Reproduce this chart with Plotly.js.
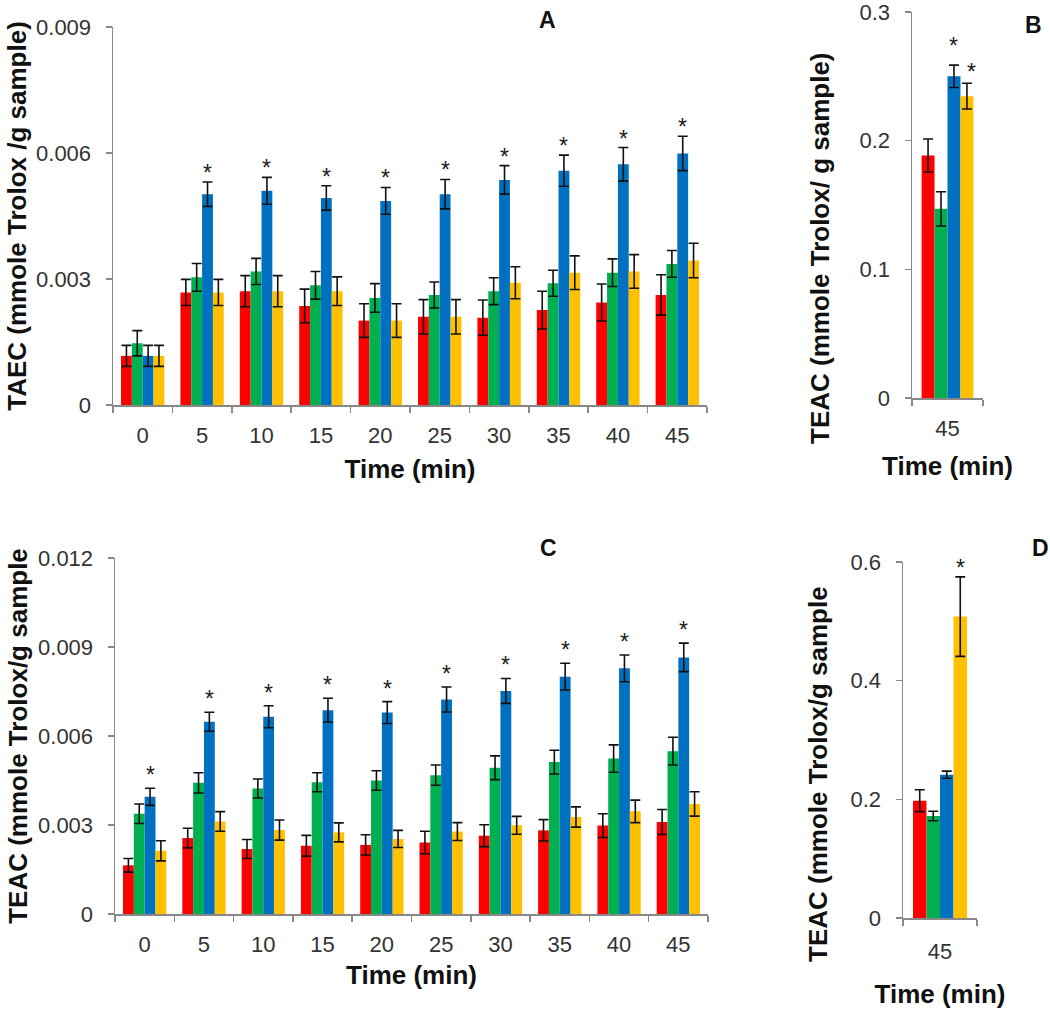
<!DOCTYPE html>
<html>
<head>
<meta charset="utf-8">
<script src="https://cdn.plot.ly/plotly-3.0.1.min.js"></script>
<style>html,body{margin:0;padding:0;background:#fff}#chart{width:1050px;height:1009px}</style>
</head>
<body>
<div id="chart"></div>
<script>
// ---------- data ----------
const timeLabels = ["0","5","10","15","20","25","30","35","40","45"];
const singleLabel = ["45"];
const seriesNames = ["Series 1","Series 2","Series 3","Series 4"];
const seriesColors = ["#FF0000","#00B050","#0070C0","#FFC000"];

// Panel A: TAEC
const aRed = [0.00117,0.00268,0.00271,0.00236,0.00201,0.00210,0.00208,0.00226,0.00244,0.00262];
const aRedErr = [0.00025,0.00031,0.00037,0.00040,0.00040,0.00041,0.00042,0.00045,0.00044,0.00048];
const aGreen = [0.00147,0.00304,0.00318,0.00285,0.00255,0.00262,0.00271,0.00290,0.00315,0.00336];
const aGreenErr = [0.00030,0.00033,0.00031,0.00033,0.00034,0.00031,0.00032,0.00031,0.00033,0.00032];
const aBlue = [0.00117,0.00502,0.00510,0.00493,0.00486,0.00502,0.00536,0.00558,0.00573,0.00599];
const aBlueErr = [0.00025,0.00029,0.00032,0.00029,0.00032,0.00035,0.00034,0.00037,0.00040,0.00041];
const aYellow = [0.00117,0.00268,0.00271,0.00271,0.00201,0.00210,0.00291,0.00315,0.00318,0.00344];
const aYellowErr = [0.00025,0.00031,0.00037,0.00034,0.00040,0.00041,0.00038,0.00040,0.00040,0.00041];
const aStarBlue = [false,true,true,true,true,true,true,true,true,true];
const aYTicks = [0,0.003,0.006,0.009];
const aYTickText = ["0","0.003","0.006","0.009"];

// Panel B: TEAC at 45 min
const bValues = [0.1885,0.147,0.250,0.2346];
const bErr = [0.0128,0.0133,0.0087,0.0100];
const bStars = [false,false,true,true];
const bYTicks = [0,0.1,0.2,0.3];
const bYTickText = ["0","0.1","0.2","0.3"];

// Panel C: TEAC
const cRed = [0.00164,0.00256,0.00219,0.00230,0.00233,0.00241,0.00264,0.00282,0.00298,0.00310];
const cRedErr = [0.00023,0.00033,0.00032,0.00035,0.00034,0.00038,0.00037,0.00036,0.00040,0.00042];
const cGreen = [0.00338,0.00442,0.00423,0.00444,0.00450,0.00468,0.00493,0.00512,0.00524,0.00549];
const cGreenErr = [0.00033,0.00034,0.00032,0.00032,0.00033,0.00034,0.00040,0.00040,0.00046,0.00047];
const cBlue = [0.00395,0.00648,0.00665,0.00687,0.00679,0.00723,0.00752,0.00800,0.00828,0.00865];
const cBlueErr = [0.00029,0.00032,0.00037,0.00040,0.00037,0.00042,0.00042,0.00045,0.00045,0.00048];
const cYellow = [0.00213,0.00312,0.00283,0.00275,0.00253,0.00278,0.00299,0.00327,0.00346,0.00371];
const cYellowErr = [0.00034,0.00033,0.00034,0.00032,0.00029,0.00030,0.00030,0.00034,0.00038,0.00041];
const cStarBlue = [true,true,true,true,true,true,true,true,true,true];
const cYTicks = [0,0.003,0.006,0.009,0.012];
const cYTickText = ["0","0.003","0.006","0.009","0.012"];

// Panel D: TEAC at 45 min
const dValues = [0.1977,0.172,0.2415,0.508];
const dErr = [0.0185,0.008,0.006,0.067];
const dStars = [false,false,false,true];
const dYTicks = [0,0.2,0.4,0.6];
const dYTickText = ["0","0.2","0.4","0.6"];

// ---------- styling ----------
const W = 1050, H = 1009;
const FONT = "Liberation Sans, Arial, Helvetica, sans-serif";
const BARGAP = 0.27;
const tickFont = {family: FONT, size: 22, color: "#333"};
const titleFont = {family: FONT, size: 26, color: "#111", weight: 700};

function px2x(p){return p/W;}
function px2y(p){return 1 - p/H;}

const panels = {
  A: {xd:[113,707], yd:[405,27]},
  B: {xd:[912,983], yd:[398,12]},
  C: {xd:[115,708], yd:[914,558]},
  D: {xd:[903,977], yd:[918,562]}
};

function errObj(arr){
  return {type:"data", array:arr, visible:true, color:"#111", thickness:1.6, width:5};
}

const traces = [];
function addGroup(xs, vals, errs, xa, ya){
  for(let s=0;s<4;s++){
    traces.push({
      type:"bar", x:xs, y:vals[s], name:seriesNames[s], showlegend:false,
      marker:{color:seriesColors[s], line:{width:0}},
      error_y:errObj(errs[s]), xaxis:xa, yaxis:ya, hoverinfo:"x+y"
    });
  }
}
addGroup(timeLabels,[aRed,aGreen,aBlue,aYellow],[aRedErr,aGreenErr,aBlueErr,aYellowErr],"x","y");
addGroup(singleLabel,bValues.map(v=>[v]),bErr.map(v=>[v]),"x2","y2");
addGroup(timeLabels,[cRed,cGreen,cBlue,cYellow],[cRedErr,cGreenErr,cBlueErr,cYellowErr],"x3","y3");
addGroup(singleLabel,dValues.map(v=>[v]),dErr.map(v=>[v]),"x4","y4");

const annotations = [];
function barShift(panel, nCats, seriesIdx){
  const p = panels[panel];
  const catW = (p.xd[1]-p.xd[0]) / nCats;
  const bw = catW*(1-BARGAP)/4;
  return (seriesIdx-1.5)*bw;
}
// x given as category serial number (index)
function star(xref, yref, idx, y, shiftX, shiftY){
  annotations.push({xref:xref, yref:yref, x:idx, y:y, text:"*", showarrow:false,
    xanchor:"center", yanchor:"bottom", xshift:shiftX, yshift:shiftY,
    font:{family:FONT, size:23, color:"#222"}});
}
timeLabels.forEach((t,i)=>{ if(aStarBlue[i]) star("x","y",i,aBlue[i]+aBlueErr[i],barShift("A",10,2),-6); });
timeLabels.forEach((t,i)=>{ if(cStarBlue[i]) star("x3","y3",i,cBlue[i]+cBlueErr[i],barShift("C",10,2),-2); });
[0,1,2,3].forEach(s=>{ if(bStars[s]) star("x2","y2",0,bValues[s]+bErr[s],barShift("B",1,s)+(s===3?5:0),s===2?4:-4); });
[0,1,2,3].forEach(s=>{ if(dStars[s]) star("x4","y4",0,dValues[s]+dErr[s],barShift("D",1,s),-6); });

// panel letters
[["A",547,20],["B",1033,25],["C",548,548],["D",1040,548]].forEach(l=>{
  annotations.push({xref:"paper",yref:"paper",x:px2x(l[1]),y:px2y(l[2]),text:"<b>"+l[0]+"</b>",
    showarrow:false,xanchor:"center",yanchor:"middle",font:{family:FONT,size:23,color:"#111"}});
});
// y titles for the narrow panels (positioned as in the original)
annotations.push({xref:"paper",yref:"paper",x:px2x(820),y:px2y(248),text:"<b>TEAC (mmole Trolox/ g sample)</b>",
  textangle:-90,showarrow:false,xanchor:"center",yanchor:"middle",font:titleFont});
annotations.push({xref:"paper",yref:"paper",x:px2x(818),y:px2y(774),text:"<b>TEAC (mmole Trolox/g sample</b>",
  textangle:-90,showarrow:false,xanchor:"center",yanchor:"middle",font:titleFont});

function xAxis(panel, nCats, titleText, anchor, standoff, labelStandoff){
  const p = panels[panel];
  return {domain:[px2x(p.xd[0]),px2x(p.xd[1])], anchor:anchor, type:"category",
    range:[-0.5, nCats-0.5], autorange:false, tickangle:0,
    showline:true, linecolor:"#888", linewidth:1.5, ticks:"outside", tickson:"boundaries",
    ticklen:6, tickcolor:"#888", tickwidth:1.5, showgrid:false, zeroline:false,
    tickfont:tickFont, ticklabelstandoff:labelStandoff,
    title:{text:titleText, font:titleFont, standoff:standoff}, fixedrange:true};
}
function yAxis(panel, range, tickvals, ticktext, titleText, anchor, standoff){
  const p = panels[panel];
  return {domain:[px2y(p.yd[0]),px2y(p.yd[1])], anchor:anchor, range:range, autorange:false,
    tickmode:"array", tickvals:tickvals, ticktext:ticktext, ticklabeloverflow:"allow",
    showline:true, linecolor:"#888", linewidth:1.5, ticks:"outside", ticklen:6, tickcolor:"#888",
    tickwidth:1.5, showgrid:false, zeroline:false, tickfont:tickFont,
    ticklabelstandoff:10,
    title:{text:titleText, font:titleFont, standoff:standoff}, fixedrange:true};
}

const layout = {
  width:W, height:H, margin:{l:0,r:0,t:0,b:0}, paper_bgcolor:"#fff", plot_bgcolor:"#fff",
  barmode:"group", bargap:BARGAP, bargroupgap:0, showlegend:false,
  font:{family:FONT},
  xaxis: xAxis("A",10,"<b>Time (min)</b>","y",13,10),
  yaxis: yAxis("A",[0,0.009],aYTicks,aYTickText,"<b>TAEC (mmole Trolox /g sample)</b>","x",2),
  xaxis2: xAxis("B",1,"<b>Time (min)</b>","y2",17,10),
  yaxis2: yAxis("B",[0,0.3],bYTicks,bYTickText,"","x2",6),
  xaxis3: xAxis("C",10,"<b>Time (min)</b>","y3",10,10),
  yaxis3: yAxis("C",[0,0.012],cYTicks,cYTickText,"<b>TEAC (mmole Trolox/g sample</b>","x3",3),
  xaxis4: xAxis("D",1,"<b>Time (min)</b>","y4",25,13),
  yaxis4: yAxis("D",[0,0.6],dYTicks,dYTickText,"","x4",6),
  annotations: annotations
};

Plotly.newPlot("chart", traces, layout, {staticPlot:true, displayModeBar:false});
</script>
</body>
</html>
